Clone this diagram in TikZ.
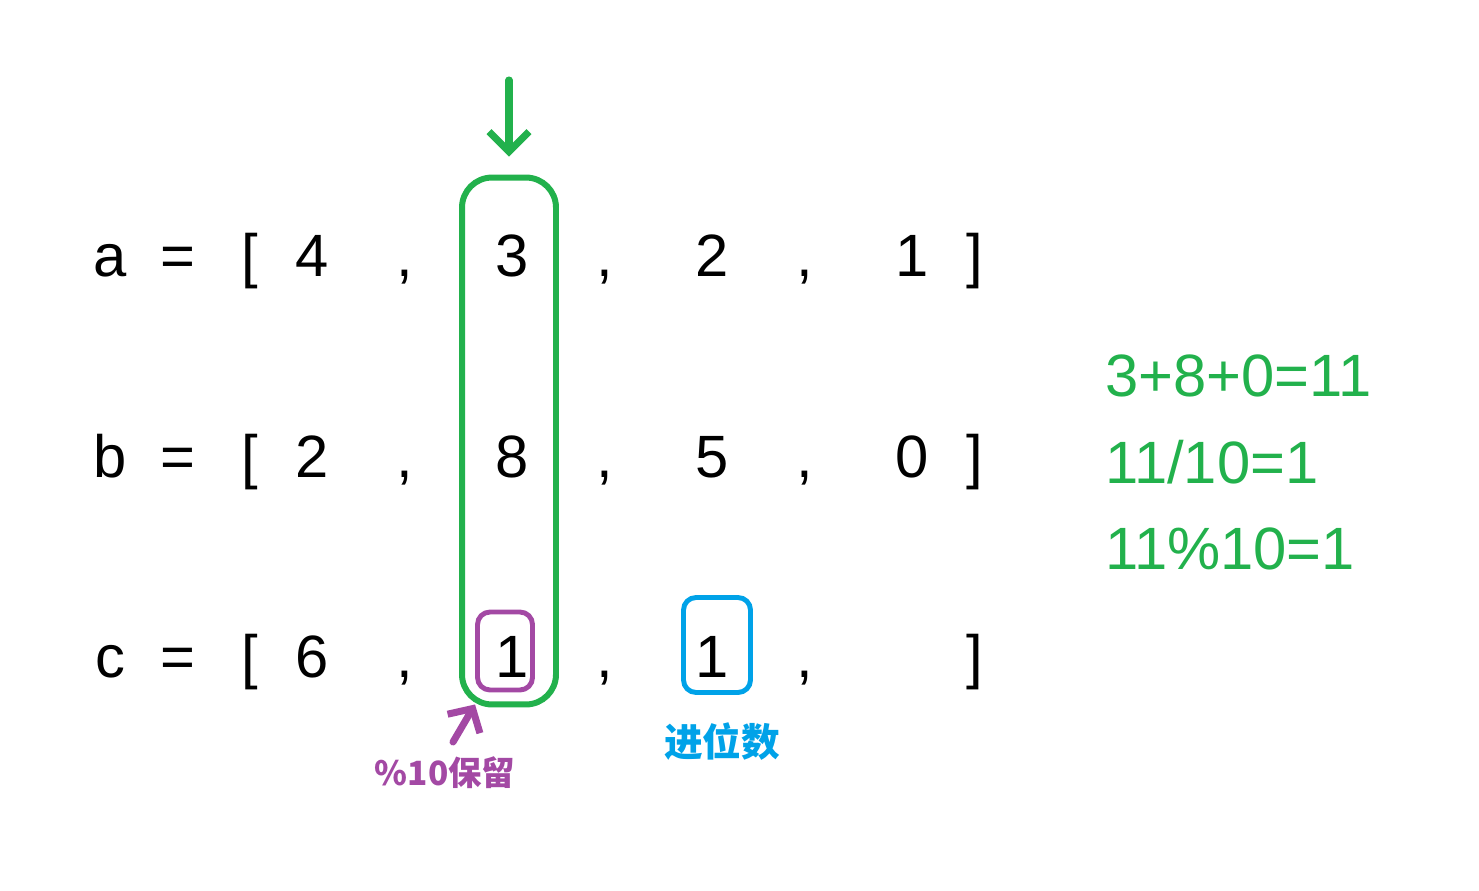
\documentclass[tikz,border=0pt]{standalone}
\usepackage{fontspec}
\setmainfont{Liberation Sans}
\newfontfamily\cjk{Noto Sans CJK SC}
\usetikzlibrary{arrows.meta}
\definecolor{pgreen}{HTML}{22B14C}
\definecolor{ppurple}{HTML}{A349A4}
\definecolor{pblue}{HTML}{00A2E8}
\newcommand{\bigtext}{\fontsize{34}{40}\selectfont}
\newcommand{\notetext}{\cjk\bfseries\fontsize{22}{26}\selectfont}

\begin{document}
\begin{tikzpicture}[x=0.02cm, y=-0.02cm,
    every node/.style={inner sep=0pt, font=\bigtext},
    cell/.style={anchor=base},
    eqn/.style={anchor=base west, text=pgreen},
    pen/.style={line width=4pt, line cap=round},
    markbox/.style={draw, line width=2.8pt, rounded corners=0.25cm}]
      \useasboundingbox (0,0) rectangle (1479,891);
      % Arrays
      \foreach \name/\y/\vals in {a/277/{4,3,2,1}, b/477/{2,8,5,0}, c/677/{6,1,1}} {
        \node[cell] (\name) at (110, \y) {\name};
        \node[cell] (\name eq) at (178, \y) {=};
        \node[cell] (\name open) at (250, \y) {[};
        \node[cell] (\name close) at (975, \y) {]};
        \foreach \k in {1,2,3}
          \node[cell] (\name sep\k) at ({205+200*\k}, \y) {,};
        \foreach \v [count=\i] in \vals
          \node[cell] (\name\i) at ({112+200*\i}, \y) {\v};
      }
     
      % Current column
      \node[draw=pgreen, line width=3.4pt, rounded corners=0.6cm,
        minimum width=1.88cm, minimum height=10.54cm] (col) at (509, 441) {};
      \coordinate (colstart) at (509, 80);
      \draw[pen, pgreen, shorten >=0.36cm, -{Straight Barb[length=0.4cm, width=0.8cm]}] (colstart) -- (col.north);
     
      % Kept digit and carry
      \node[markbox, draw=ppurple, minimum width=1.1cm, minimum height=1.56cm] (keep) at (505, 651) {};
      \node[markbox, draw=pblue, minimum width=1.34cm, minimum height=1.9cm] (carry) at (717, 645) {};
      \coordinate (keepstart) at (453, 742);
      \draw[pen, ppurple, -{Straight Barb[length=0.35cm, width=0.75cm]}] (keepstart) -- ([yshift=-0.24cm]keep.south west);
      \node[text=ppurple, font=\notetext\fontsize{19}{24}\selectfont] (keeplabel) at (445, 773) {\%10保留};
      \node[text=pblue, font=\notetext] (carrylabel) at (722, 742) {进位数};
     
      % Working
      \node[eqn] (sum) at (1105, 397) {3+8+0=11};
      \node[eqn] (div) at (1105, 483) {11/10=1};
      \node[eqn] (mod) at (1105, 569) {11\%10=1};
     
\end{tikzpicture}
\end{document}
